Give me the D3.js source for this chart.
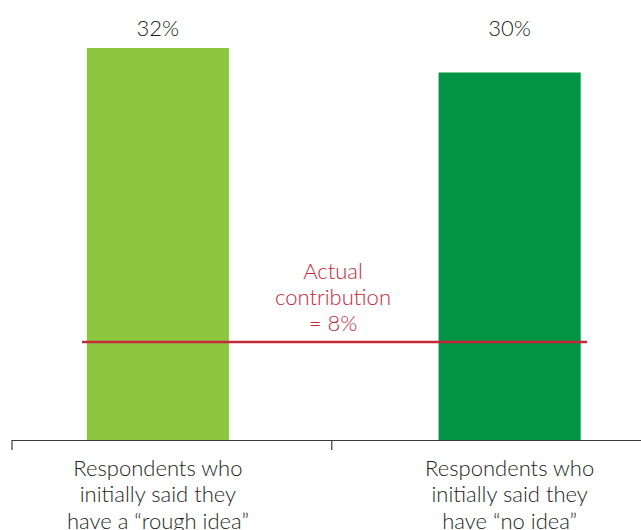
<!DOCTYPE html>
<html>
<head>
<meta charset="utf-8">
<script src="https://cdn.jsdelivr.net/npm/d3@7"></script>
<style>
  html, body { margin: 0; padding: 0; background: #fff; }
  svg { display: block; font-family: "Lato", "Open Sans", sans-serif; }
</style>
</head>
<body>
<svg id="chart" width="641" height="530"></svg>
<script>
// Share of respondents, by what they initially said
const categories = [
  ["Respondents who", "initially said they", "have a \u201crough idea\u201d"],
  ["Respondents who", "initially said they", "have \u201cno idea\u201d"]
];
const values = [32, 30];
const valueLabels = ["32%", "30%"];
const barColors = ["#8dc63f", "#009444"];

// Reference line: the actual contribution
const actualValue = 8;
const actualLabel = ["Actual", "contribution", "= 8%"];

const svg = d3.select("#chart");
const keys = categories.map((c, i) => "c" + i);
const fontSize = 22;
const textColor = "#231f20";

const x = d3.scaleBand()
  .domain(keys)
  .range([-18, 685.5])
  .paddingInner(0.596)
  .paddingOuter(0.298);

const baseY = 440;
const y = d3.scaleLinear().domain([0, 32]).range([baseY, 48]);

// Bars
svg.selectAll("rect.bar")
  .data(values)
  .join("rect")
  .attr("class", "bar")
  .attr("x", (d, i) => x(keys[i]))
  .attr("width", x.bandwidth())
  .attr("y", d => y(d))
  .attr("height", d => y(0) - y(d))
  .attr("fill", (d, i) => barColors[i]);

// Value labels sit on a common line above the bars
svg.selectAll("text.value")
  .data(valueLabels)
  .join("text")
  .attr("class", "value")
  .attr("x", (d, i) => x(keys[i]) + x.bandwidth() / 2)
  .attr("y", 27)
  .attr("text-anchor", "middle")
  .attr("dominant-baseline", "central")
  .attr("font-size", fontSize)
  .attr("font-weight", 300)
  .attr("fill", textColor)
  .text(d => d);

// Category axis with boundary ticks
const mid = (x(keys[0]) + x.bandwidth() / 2 + x(keys[1]) + x.bandwidth() / 2) / 2;
const axis = svg.append("g").attr("stroke", "#3a3a3a").attr("stroke-width", 1.2);
axis.append("line")
  .attr("x1", 12).attr("x2", 641)
  .attr("y1", baseY + 0.5).attr("y2", baseY + 0.5);
[12, mid - 2].forEach(tx => {
  axis.append("line")
    .attr("x1", tx).attr("x2", tx)
    .attr("y1", baseY).attr("y2", baseY + 10);
});

// Category labels, three lines each
const catG = svg.selectAll("text.cat")
  .data(categories)
  .join("text")
  .attr("class", "cat")
  .attr("text-anchor", "middle")
  .attr("font-size", fontSize)
  .attr("font-weight", 300)
  .attr("fill", textColor);
catG.selectAll("tspan")
  .data((d, i) => d.map(t => ({ t, i })))
  .join("tspan")
  .attr("x", d => x(keys[d.i]) + x.bandwidth() / 2)
  .attr("y", (d, j) => 467 + j * 26.5)
  .attr("dominant-baseline", "central")
  .text(d => d.t);

// Actual contribution line and its label
const red = "#c4293a";
svg.append("line")
  .attr("x1", 82).attr("x2", 587)
  .attr("y1", y(actualValue)).attr("y2", y(actualValue))
  .attr("stroke", red)
  .attr("stroke-width", 2.5);

svg.append("text")
  .attr("text-anchor", "middle")
  .attr("font-size", fontSize)
  .attr("font-weight", 300)
  .attr("fill", red)
  .selectAll("tspan")
  .data(actualLabel)
  .join("tspan")
  .attr("x", 333)
  .attr("y", (d, j) => y(actualValue) - 72 + j * 26)
  .attr("dominant-baseline", "central")
  .text(d => d);
</script>
</body>
</html>
